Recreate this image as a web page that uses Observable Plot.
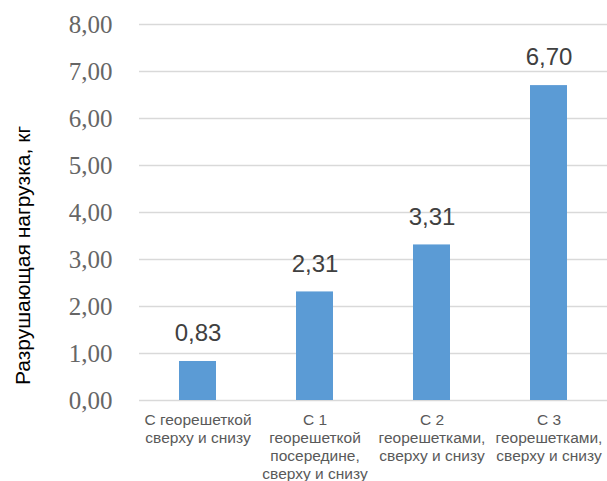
<!DOCTYPE html>
<html><head><meta charset="utf-8">
<script src="https://cdn.jsdelivr.net/npm/d3@7"></script>
<script src="https://cdn.jsdelivr.net/npm/@observablehq/plot@0.6"></script>
<style>body{margin:0;background:#fff}</style>
</head><body><div id="chart"></div>
<script>
const categories = ["С георешеткой сверху и снизу", "С 1 георешеткой посередине, сверху и снизу", "С 2 георешетками, сверху и снизу", "С 3 георешетками, сверху и снизу"];
const tickLabels = ["С георешеткой\nсверху и снизу", "С 1\nгеорешеткой\nпосередине,\nсверху и снизу", "С 2\nгеорешетками,\nсверху и снизу", "С 3\nгеорешетками,\nсверху и снизу"];
const values = [0.83, 2.31, 3.31, 6.70];
const yTicks = [0, 1, 2, 3, 4, 5, 6, 7, 8];
const yLabel = "Разрушающая нагрузка, кг";

const data = categories.map((c, i) => ({cat: c, value: values[i]}));
const fmt = v => v.toFixed(2).replace(".", ",");
const labelOf = new Map(categories.map((c, i) => [c, tickLabels[i]]));

const chart = Plot.plot({
  width: 607, height: 481,
  marginLeft: 139, marginRight: 0, marginTop: 24, marginBottom: 81,
  x: {domain: categories, paddingInner: 0.68, paddingOuter: 0.34, align: 0.5, label: null},
  y: {domain: [0, 8], label: null},
  marks: [
    Plot.gridY(yTicks, {stroke: "#d9d9d9", strokeOpacity: 1, strokeWidth: 1.5}),
    Plot.barY(data, {x: "cat", y: "value", fill: "#5b9bd5"}),
    Plot.text(data, {x: "cat", y: "value", text: d => fmt(d.value), dy: -28, fontSize: 24, fill: "#404040", fontFamily: "Liberation Sans, Arial, sans-serif"}),
    Plot.axisY(yTicks, {tickSize: 0, tickPadding: 27, tickFormat: fmt, fontSize: 25, fill: "#666666", fontFamily: "Liberation Serif, Times New Roman, serif", label: null}),
    Plot.axisX({tickSize: 0, tickPadding: 12, tickFormat: d => labelOf.get(d), fontSize: 15.5, lineHeight: 1.15, fill: "#595959", fontFamily: "Liberation Sans, Arial, sans-serif", label: null}),
    Plot.text([yLabel], {text: d => d, frameAnchor: "left", textAnchor: "middle", rotate: -90, dx: -116, dy: 43, fontSize: 21, fill: "#000", fontFamily: "Liberation Sans, Arial, sans-serif"})
  ]
});
document.getElementById("chart").append(chart);
</script></body></html>
